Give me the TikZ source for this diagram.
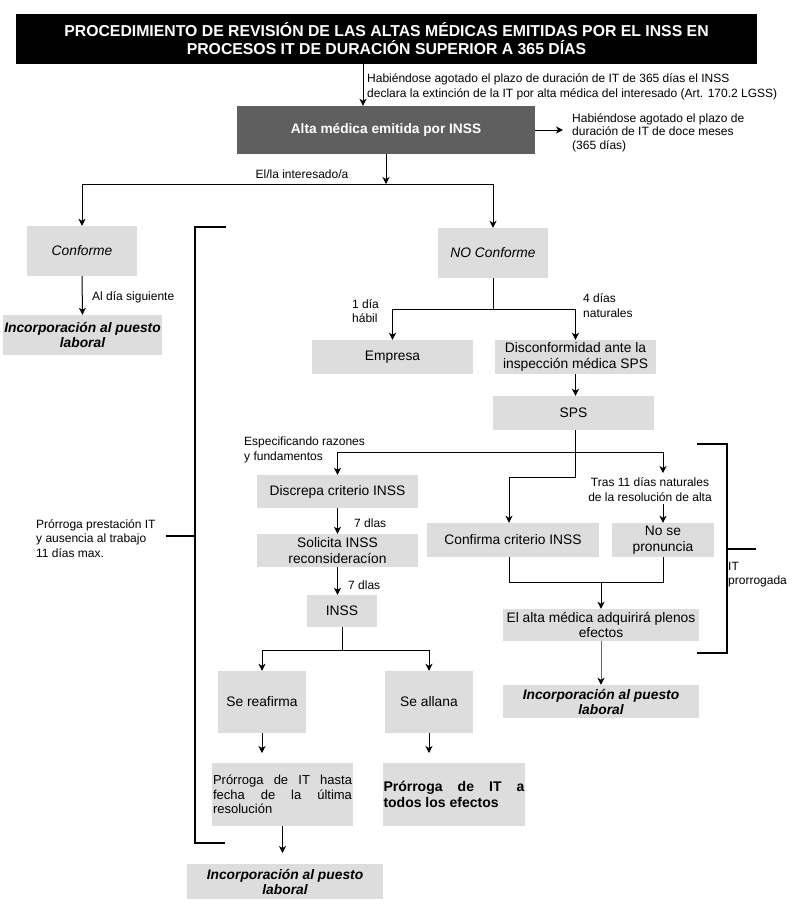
\documentclass[tikz,border=0pt]{standalone}
\usepackage{fontspec}
\setmainfont{Liberation Sans}
\usetikzlibrary{arrows.meta}
\definecolor{boxgray}{RGB}{221,221,221}
\definecolor{altagray}{RGB}{95,95,95}
\definecolor{linegray}{RGB}{102,102,102}
\begin{document}
\begin{tikzpicture}[x=1pt,y=-1pt,
  box/.style={fill=boxgray,inner sep=0pt,align=center,font=\fontsize{13.8}{15.5}\selectfont},
  inc/.style={box,font=\bfseries\itshape\fontsize{13.8}{15}\selectfont},
  lbl/.style={inner sep=0pt,align=left,font=\fontsize{12}{14.5}\selectfont},
  arr/.style={-{Stealth[length=7pt,width=7pt,inset=2pt]},line width=1pt},
  ln/.style={line width=1pt},
  brk/.style={line width=2pt}]
\useasboundingbox (0,0) rectangle (796,911);

% ---- nodes
\node[fill=black,text=white,inner sep=0pt,minimum width=741pt,minimum height=50pt,align=center,
  font=\bfseries\fontsize{15.8}{18}\selectfont] (title) at (386.5,39)
  {PROCEDIMIENTO DE REVISIÓN DE LAS ALTAS MÉDICAS EMITIDAS POR EL INSS EN\\PROCESOS IT DE DURACIÓN SUPERIOR A 365 DÍAS};
\node[fill=altagray,text=white,inner sep=0pt,minimum width=298pt,minimum height=48pt,
  font=\bfseries\fontsize{13.7}{16}\selectfont] (alta) at (386,130) {Alta médica emitida por INSS};

\node[box,font=\itshape\fontsize{13.8}{15.5}\selectfont,minimum width=110pt,minimum height=50pt] (conforme) at (82,251) {Conforme};
\node[inc,minimum width=159pt,minimum height=40pt] (inc1) at (82.5,335) {Incorporación al puesto\\laboral};
\node[box,font=\itshape\fontsize{13.8}{15.5}\selectfont,minimum width=110pt,minimum height=50pt] (noconf) at (493,253) {NO Conforme};
\node[box,minimum width=161pt,minimum height=34pt] (empresa) at (392.5,357) {Empresa};
\node[box,minimum width=161pt,minimum height=34pt] (disconf) at (575.5,357) {Disconformidad ante la\\inspección médica SPS};
\node[box,minimum width=161pt,minimum height=34pt] (sps) at (573.5,413) {SPS};
\node[box,minimum width=161pt,minimum height=33pt] (discrepa) at (337.5,491.5) {Discrepa criterio INSS};
\node[box,minimum width=161pt,minimum height=33pt] (solicita) at (337.5,550.5) {Solicita INSS\\reconsideracíon};
\node[box,minimum width=70pt,minimum height=32pt] (inss) at (342,611) {INSS};
\node[box,minimum width=172pt,minimum height=34pt] (confirma) at (513,540) {Confirma criterio INSS};
\node[box,minimum width=102pt,minimum height=34pt] (nopron) at (663,540) {No se\\pronuncia};
\node[box,minimum width=196pt,minimum height=32pt] (elalta) at (601,625) {El alta médica adquirirá plenos\\efectos};
\node[inc,minimum width=196pt,minimum height=33pt] (inc2) at (601,701.5) {Incorporación al puesto\\laboral};
\node[box,minimum width=88pt,minimum height=62pt] (reafirma) at (262,702) {Se reafirma};
\node[box,minimum width=88pt,minimum height=62pt] (allana) at (429,702) {Se allana};
\node[box,minimum width=141pt,minimum height=63pt,text width=139pt,inner xsep=1pt,align=justify,
  font=\fontsize{13}{14.5}\selectfont] (prorr1) at (282.5,794.5)
  {Prórroga de IT hasta\linebreak fecha de la última\linebreak resolución};
\node[box,minimum width=142pt,minimum height=63pt,text width=141pt,align=justify,
  font=\bfseries\fontsize{14}{16}\selectfont] (prorr2) at (454,794.5)
  {Prórroga de IT a\linebreak todos los efectos};
\node[inc,minimum width=196pt,minimum height=35pt] (inc3) at (285,881.5) {Incorporación al puesto\\laboral};

% ---- labels
\node[lbl,anchor=west] (l1) at (367,87) {Habiéndose agotado el plazo de duración de IT de 365 días el INSS\\declara la extinción de la IT por alta médica del interesado (Art. 170.2 LGSS)};
\node[lbl,anchor=west,font=\fontsize{12}{13.5}\selectfont] (l2) at (572,132.5) {Habiéndose agotado el plazo de\\duración de IT de doce meses\\(365 días)};
\node[lbl] (l3) at (302,174) {El/la interesado/a};
\node[lbl,anchor=west] (l4) at (92,297) {Al día siguiente};
\node[lbl,anchor=west] (l5) at (352,311) {1 día\\hábil};
\node[lbl,anchor=west] (l6) at (583,305.5) {4 días\\naturales};
\node[lbl,anchor=west] (l7) at (244,450) {Especificando razones\\y fundamentos};
\node[lbl,align=center] (tras) at (650,489.5) {Tras 11 días naturales\\de la resolución de alta};
\node[lbl,anchor=west] (l8) at (354,523) {7 dlas};
\node[lbl,anchor=west] (l9) at (348,585) {7 dlas};
\node[lbl,anchor=west] (l10) at (36,538.5) {Prórroga prestación IT\\y ausencia al trabajo\\11 días max.};
\node[lbl,anchor=west] (l11) at (728,574.5) {IT\\prorrogada};

% ---- connectors
\draw[arr] ([xshift=-23.5pt]title.south) -- ([xshift=-23.5pt]title.south |- alta.north);
\coordinate (altaR) at (563,130);
\draw[arr] (alta.east) -- (altaR);
\coordinate (s1) at (386,184);
\draw[arr] (alta.south) -- (s1);
\draw[arr] (s1) -| (conforme.north);
\draw[arr] (s1) -| (noconf.north);
\draw[arr] (conforme.south) -- (inc1.north);
\coordinate (s2) at (493,309);
\draw[ln] (noconf.south) -- (s2);
\draw[arr] (s2) -| (empresa.north);
\draw[arr] (s2) -| (disconf.north);
\draw[arr] (disconf.south) -- (disconf.south |- sps.north);
\coordinate (cb) at (509,477);
\draw[arr] (sps.south -| disconf.south) |- (cb) -- (cb |- confirma.north);
\coordinate (hR) at (663,452);
\coordinate (trasTop) at (663,473);
\coordinate (trasBot) at (663,504);
\draw[arr] (hR) -| (discrepa.north);
\draw[arr] (hR) -- (trasTop);
\draw[arr] (trasBot) -- (nopron.north);
\draw[arr] (discrepa.south) -- (solicita.north);
\draw[arr] (solicita.south) -- (solicita.south |- inss.north);
\coordinate (s3) at (342,650);
\draw[ln] (inss.south) -- (s3);
\draw[arr] (s3) -| (reafirma.north);
\draw[arr] (s3) -| (allana.north);
\coordinate (reT) at (262,753);
\coordinate (alT) at (429,753);
\coordinate (prT) at (282.5,853);
\draw[arr] (reafirma.south) -- (reT);
\draw[arr] (allana.south) -- (alT);
\draw[arr] (prorr1.south) -- (prT);
\coordinate (jL) at (509,582);
\coordinate (jR) at (663,582);
\draw[ln] (confirma.south -| jL) -- (jL) -- (jR) -- (nopron.south);
\draw[arr] (elalta.north |- jL) -- (elalta.north);
\draw[line width=1pt,draw=linegray,-{Stealth[length=7pt,width=7pt,inset=2pt,color=black]}] (elalta.south) -- (inc2.north);

% ---- brackets
\draw[brk] (226,227) -- (195,227) -- (195,843) -- (225,843);
\draw[brk] (166,536) -- (195,536);
\draw[brk] (697,444) -- (727,444) -- (727,653) -- (697,653);
\draw[brk] (727,549) -- (756,549);
\end{tikzpicture}
\end{document}
